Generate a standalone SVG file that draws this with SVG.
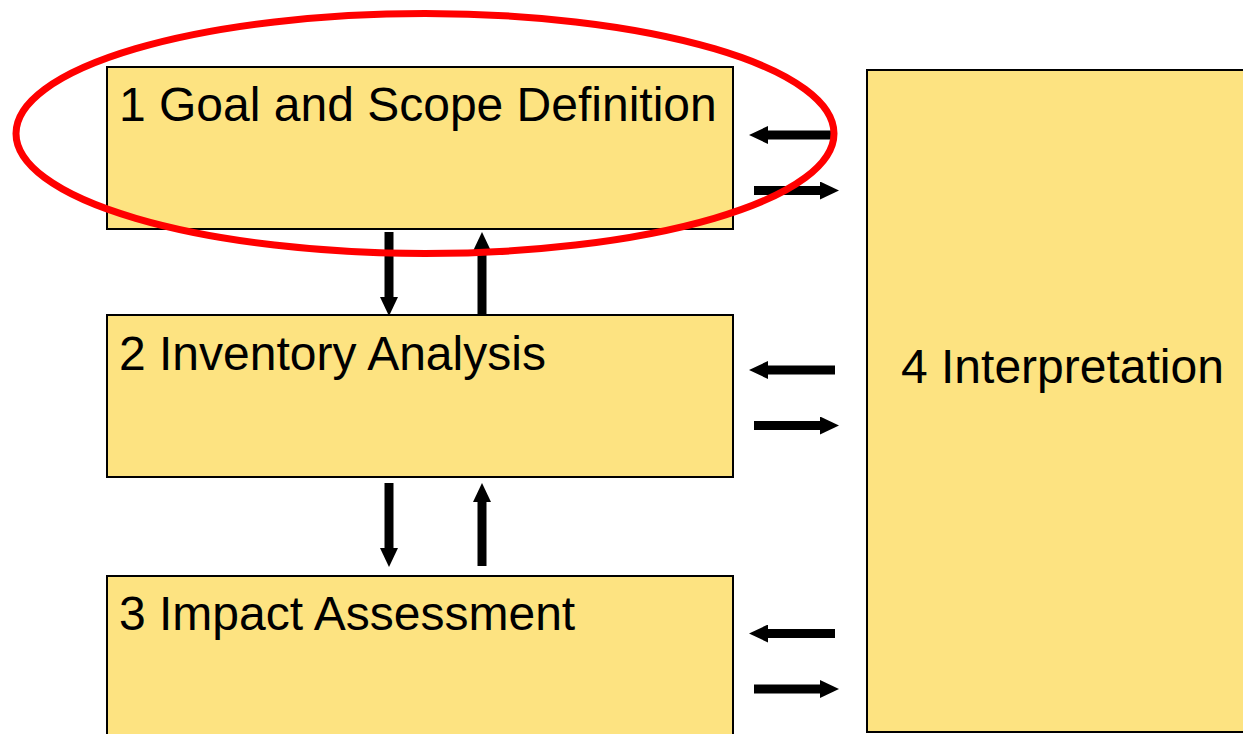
<svg xmlns="http://www.w3.org/2000/svg" width="1243" height="734" viewBox="0 0 1243 734">
  <style>
    .box { fill: #FDE381; stroke: #000; stroke-width: 2; }
    .lbl { font-family: "Liberation Sans", Arial, sans-serif; font-size: 48px; fill: #000; }
    .arr { stroke: #000; stroke-width: 9; fill: none; marker-end: url(#head); }
  </style>
  <defs>
    <marker id="head" viewBox="0 0 19 18" markerWidth="19" markerHeight="18" refX="0" refY="9" orient="auto" markerUnits="userSpaceOnUse">
      <path d="M0,0 L19,9 L0,18 z" fill="#000"/>
    </marker>
  </defs>
  <rect width="1243" height="734" fill="#fff"/>
  <g id="node1">
    <rect class="box" x="107" y="67" width="626" height="162"/>
    <text class="lbl" x="119" y="121">1 Goal and Scope Definition</text>
  </g>
  <g id="node2">
    <rect class="box" x="107" y="315" width="626" height="162"/>
    <text class="lbl" x="119" y="370">2 Inventory Analysis</text>
  </g>
  <g id="node3">
    <rect class="box" x="107" y="576" width="626" height="200"/>
    <text class="lbl" x="119" y="630">3 Impact Assessment</text>
  </g>
  <g id="node4">
    <rect class="box" x="867" y="70" width="400" height="662"/>
    <text class="lbl" x="901" y="383">4 Interpretation</text>
  </g>
  <g id="connectors">
    <line class="arr" x1="835" y1="135" x2="768" y2="135"/>
    <line class="arr" x1="754" y1="190.5" x2="820" y2="190.5"/>
    <line class="arr" x1="835" y1="370" x2="768" y2="370"/>
    <line class="arr" x1="754" y1="425.5" x2="820" y2="425.5"/>
    <line class="arr" x1="835" y1="633.5" x2="768" y2="633.5"/>
    <line class="arr" x1="754" y1="689" x2="820" y2="689"/>
    <line class="arr" x1="389" y1="232" x2="389" y2="297"/>
    <line class="arr" x1="482" y1="315" x2="482" y2="251"/>
    <line class="arr" x1="389" y1="483" x2="389" y2="548"/>
    <line class="arr" x1="482" y1="566" x2="482" y2="502"/>
  </g>
  <g id="highlight">
    <ellipse cx="425" cy="133.5" rx="409" ry="120" fill="none" stroke="#FF0000" stroke-width="7"/>
  </g>
</svg>
